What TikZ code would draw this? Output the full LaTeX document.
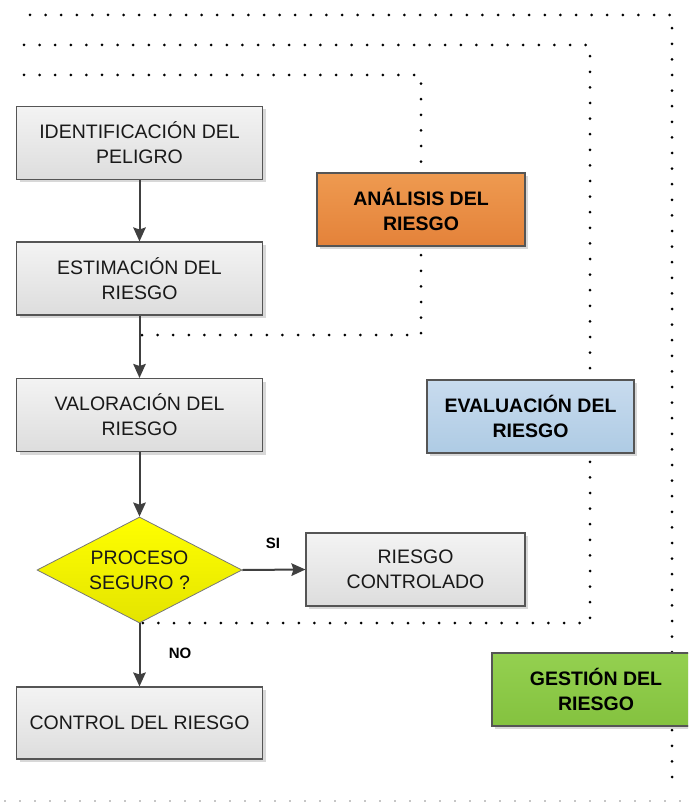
\documentclass[tikz,border=0pt]{standalone}
\usepackage{fontspec}
\setmainfont{Liberation Sans}
\usetikzlibrary{shapes.geometric,shadows,arrows.meta}
\definecolor{boxborder}{HTML}{555555}
\definecolor{gtop}{HTML}{F3F3F3}
\definecolor{gbot}{HTML}{DDDDDD}
\definecolor{otop}{HTML}{EE9A50}
\definecolor{obot}{HTML}{E4823A}
\definecolor{btop}{HTML}{C8DBEE}
\definecolor{bbot}{HTML}{AECBE4}
\definecolor{grtop}{HTML}{94D050}
\definecolor{grbot}{HTML}{84C23F}
\definecolor{ytop}{HTML}{FFFF00}
\definecolor{ybot}{HTML}{E4E400}
\definecolor{arrowc}{HTML}{404040}
\begin{document}
\begin{tikzpicture}[x=1pt,y=-1pt,
  shad/.style={drop shadow={shadow xshift=3pt,shadow yshift=-3pt,fill=black!30,opacity=0.5}},
  graybox/.style={draw=boxborder,line width=1.1pt,top color=gtop,bottom color=gbot,
    minimum width=246pt,minimum height=73pt,inner sep=0pt,align=center,
    font=\fontsize{19.5}{25}\selectfont,text=black!90,shad},
  colbox/.style={draw=boxborder,line width=1.1pt,minimum width=207pt,minimum height=73pt,
    inner sep=0pt,align=center,font=\fontsize{19.5}{25}\selectfont\bfseries,text=black,shad},
  flow/.style={draw=arrowc,line width=2pt,-{Stealth[length=14pt,width=12.5pt,inset=2pt]}},
  dotline/.style={line width=3pt,dash pattern=on 0pt off 15.6pt,line cap=round},
  lbl/.style={font=\fontsize{15}{17}\selectfont\bfseries,inner sep=0pt}
]
\useasboundingbox (0,0) rectangle (688,805);
\clip (0,0) rectangle (688,805);
% dotted frames
\coordinate (o1) at (30,15);
\coordinate (o2) at (672,15);
\coordinate (o3) at (672,792);
\coordinate (m1) at (24,45);
\coordinate (m2) at (590,45);
\coordinate (m3) at (590,623);
\coordinate (m4) at (140,623);
\coordinate (i1) at (24,75);
\coordinate (i2) at (421,75);
\coordinate (i3) at (421,335);
\coordinate (i4) at (140,335);
\coordinate (b1) at (5,801);
\coordinate (b2) at (688,801);
\draw[dotline] (o1) -- (o2) -- (o3);
\draw[dotline] (m1) -- (m2) -- (m3) -- (m4);
\draw[dotline] (i1) -- (i2) -- (i3) -- (i4);
\draw[dotline,line width=1.8pt,black!45,dash pattern=on 0pt off 15pt] (b1) -- (b2);
% nodes
\node[graybox] (ident) at (139.5,143) {IDENTIFICACIÓN DEL\\PELIGRO};
\node[graybox] (estim) at (139.5,278.5) {ESTIMACIÓN DEL\\RIESGO};
\node[graybox] (valor) at (139.5,415) {VALORACIÓN DEL\\RIESGO};
\node[diamond,aspect=1.95,draw=boxborder!80,line width=0.8pt,top color=ytop,bottom color=ybot,
  minimum width=205pt,minimum height=106pt,inner sep=0pt,align=center,
  font=\fontsize{19.5}{25}\selectfont,text=black!90] (proc) at (139.5,570) {PROCESO\\SEGURO ?};
\node[graybox,minimum width=219pt] (contr) at (415.5,569.5) {RIESGO\\CONTROLADO};
\node[graybox,minimum height=72pt] (ctrl) at (139.5,723) {CONTROL DEL RIESGO};
\node[colbox,top color=otop,bottom color=obot,minimum width=208pt] (anal) at (421,209.5) {ANÁLISIS DEL\\RIESGO};
\node[colbox,top color=btop,bottom color=bbot] (eval) at (530.5,416.5) {EVALUACIÓN DEL\\RIESGO};
\node[colbox,top color=grtop,bottom color=grbot,minimum width=208pt] (gest) at (596,689.5) {GESTIÓN DEL\\RIESGO};
% arrows
\draw[flow] (ident.south) -- (estim.north);
\draw[flow] (estim.south) -- (valor.north);
\draw[flow] (valor.south) -- (proc.north);
\draw[flow] (proc.east) -- (contr.west);
\draw[flow] (proc.south) -- (ctrl.north);
% labels
\node[lbl] (si) at (273,543) {SI};
\node[lbl] (no) at (180,653) {NO};
\end{tikzpicture}
\end{document}
